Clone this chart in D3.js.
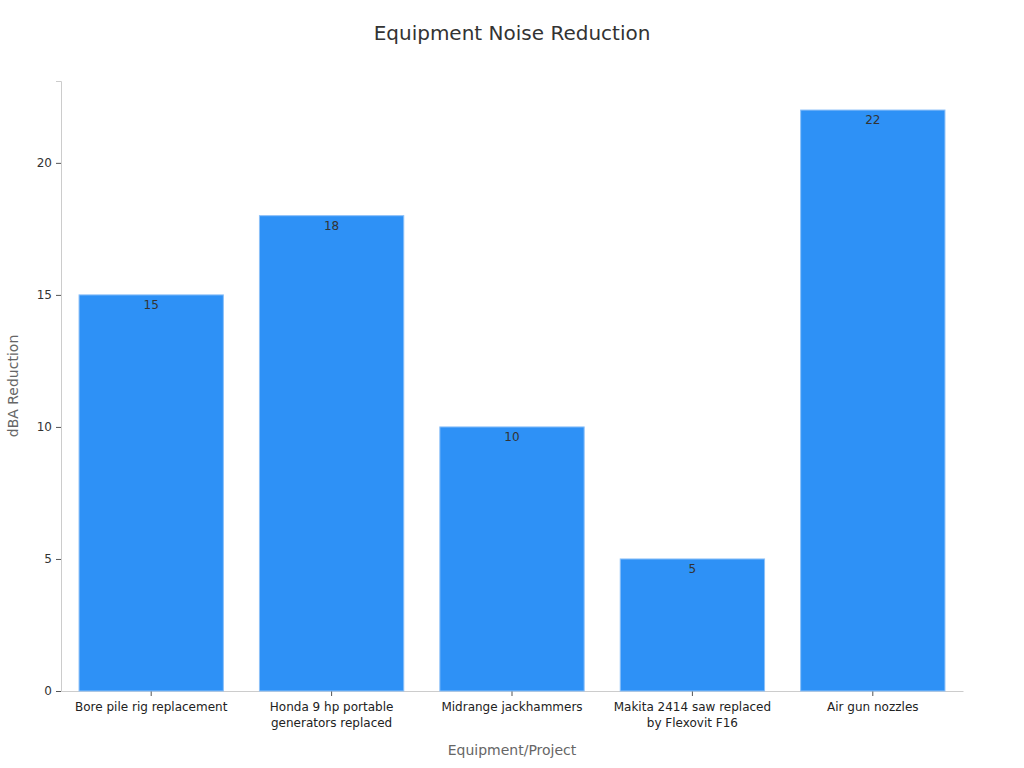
<!DOCTYPE html>
<html>
<head>
<meta charset="utf-8">
<script src="https://cdn.jsdelivr.net/npm/d3@7"></script>
<style>
  body { margin: 0; background: #fff; }
  text { font-family: "DejaVu Sans", sans-serif; }
</style>
</head>
<body>
<div id="chart"></div>
<script>
// data
const categories = [
    'Bore pile rig replacement',
    'Honda 9 hp portable generators replaced',
    'Midrange jackhammers',
    'Makita 2414 saw replaced by Flexovit F16',
    'Air gun nozzles'
];
const categoryLines = [
    ['Bore pile rig replacement'],
    ['Honda 9 hp portable', 'generators replaced'],
    ['Midrange jackhammers'],
    ['Makita 2414 saw replaced', 'by Flexovit F16'],
    ['Air gun nozzles']
];
const reductions = [15, 18, 10, 5, 22];
const yTicks = [0, 5, 10, 15, 20];

const W = 1024, H = 768;
const margin = {top: 81, right: 61, bottom: 77, left: 61};
const w = W - margin.left - margin.right,
      h = H - margin.top - margin.bottom;

const svg = d3.select('#chart').append('svg')
    .attr('width', W)
    .attr('height', H);

const g = svg.append('g')
    .attr('transform', 'translate(' + margin.left + ',' + margin.top + ')');

let xScale = d3.scaleBand()
    .domain(categories)
    .range([0, w])
    .paddingInner(0.2)
    .paddingOuter(0.1);

let yScale = d3.scaleLinear()
    .domain([0, d3.max(reductions) * 1.05])
    .range([h, 0]);

// title
svg.append('text')
    .attr('x', W / 2)
    .attr('y', 40)
    .attr('text-anchor', 'middle')
    .style('font-size', '20px')
    .style('fill', '#333')
    .text('Equipment Noise Reduction');

// y axis
const yAxis = g.append('g')
    .call(d3.axisLeft(yScale).tickValues(yTicks).tickSize(5).tickPadding(4));
yAxis.select('.domain').attr('stroke', '#ccc');
yAxis.selectAll('.tick line').attr('stroke', '#555');
yAxis.selectAll('.tick text').style('font-size', '12px').style('fill', '#333');

// x axis
const xAxis = g.append('g')
    .attr('transform', 'translate(0,' + h + ')')
    .call(d3.axisBottom(xScale).tickSize(5).tickSizeOuter(0).tickPadding(6));
xAxis.select('.domain').attr('stroke', '#ccc');
xAxis.selectAll('.tick line').attr('stroke', '#555');
xAxis.selectAll('.tick text').each(function (d, i) {
    const t = d3.select(this).text(null)
        .style('font-size', '12px').style('fill', '#222');
    categoryLines[i].forEach((line, j) => {
        t.append('tspan')
            .attr('x', 0)
            .attr('dy', j === 0 ? '0.71em' : '1.35em')
            .text(line);
    });
});

// bars
g.selectAll('rect.bar')
    .data(reductions)
    .enter()
    .append('rect')
    .attr('class', 'bar')
    .attr('x', (d, i) => xScale(categories[i]))
    .attr('y', (d) => yScale(d))
    .attr('width', xScale.bandwidth())
    .attr('height', (d) => h - yScale(d))
    .attr('fill', '#2e91f6')
    .attr('stroke', '#8cc0f8')
    .attr('stroke-width', 1);

// value labels
g.selectAll('text.val')
    .data(reductions)
    .enter()
    .append('text')
    .attr('class', 'val')
    .attr('x', (d, i) => xScale(categories[i]) + xScale.bandwidth() / 2)
    .attr('y', (d) => yScale(d) + 14)
    .attr('text-anchor', 'middle')
    .style('font-size', '12px')
    .style('fill', '#333')
    .text((d) => d);

// axis titles
svg.append('text')
    .attr('transform', 'translate(18,' + (margin.top + h / 2) + ') rotate(-90)')
    .attr('text-anchor', 'middle')
    .style('font-size', '14px')
    .style('fill', '#666')
    .text('dBA Reduction');

svg.append('text')
    .attr('x', margin.left + w / 2)
    .attr('y', 755)
    .attr('text-anchor', 'middle')
    .style('font-size', '14px')
    .style('fill', '#666')
    .text('Equipment/Project');
</script>
</body>
</html>
